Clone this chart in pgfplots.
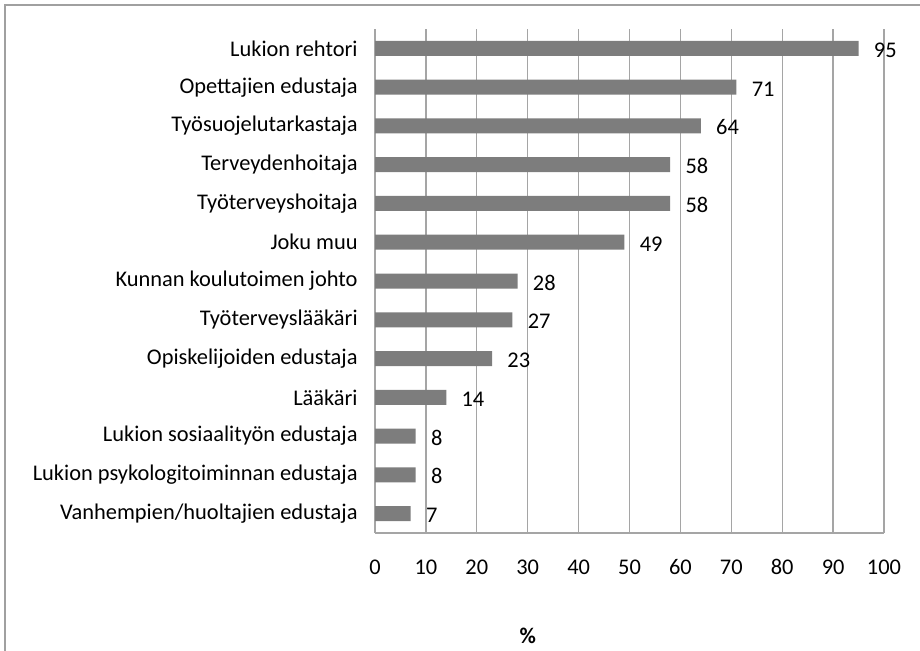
\documentclass[border=0pt]{standalone}
\usepackage{pgfplots}
\pgfplotsset{compat=1.18}
\usepackage{fontspec}
\setmainfont{Carlito}
\definecolor{barc}{RGB}{125,125,125}
\definecolor{gridc}{RGB}{165,165,165}
\definecolor{framec}{RGB}{160,160,160}
\begin{document}
\begin{tikzpicture}
\useasboundingbox (0,0) rectangle (690pt,487.5pt);
\draw[framec,line width=1.5pt] (3.375pt,-5pt) -- (3.375pt,484.1pt) -- (695pt,484.1pt);
\begin{axis}[
  at={(281.25pt,87.75pt)}, anchor=south west,
  scale only axis, width=381.75pt, height=378pt,
  xbar, bar width=11.25pt,
  xmin=0, xmax=100, ymin=-0.5, ymax=12.5, y dir=reverse,
  xtick={0,10,...,100}, ytick={0,...,12},
  yticklabels={Lukion rehtori,Opettajien edustaja,Työsuojelutarkastaja,Terveydenhoitaja,Työterveyshoitaja,Joku muu,Kunnan koulutoimen johto,Työterveyslääkäri,Opiskelijoiden edustaja,Lääkäri,Lukion sosiaalityön edustaja,Lukion psykologitoiminnan edustaja,Vanhempien/huoltajien edustaja},
  major tick length=0pt,
  xmajorgrids, grid style={gridc,line width=1pt},
  axis x line*=bottom, axis y line*=left,
  axis line style={gridc,line width=1pt},
  font=\fontsize{16.8}{20}\selectfont,
  /pgf/number format/assume math mode=true,
  yticklabel style={xshift=-9.5pt},
  xticklabel style={yshift=-21pt, text height=0.65em, text depth=0pt},
  xlabel={\textbf{\%}},
  xlabel style={at={(axis description cs:0.3,-0.204)}, anchor=center},
  nodes near coords,
  every node near coord/.append style={anchor=west, xshift=8pt, yshift=-3.5pt, black, text height=0.65em, text depth=0pt, font=\fontsize{16.8}{20}\selectfont},
]
\addplot[fill=barc, draw=none] coordinates {
(95,0) (71,1) (64,2) (58,3) (58,4) (49,5) (28,6) (27,7) (23,8) (14,9) (8,10) (8,11) (7,12)
};
\end{axis}
\end{tikzpicture}
\end{document}
